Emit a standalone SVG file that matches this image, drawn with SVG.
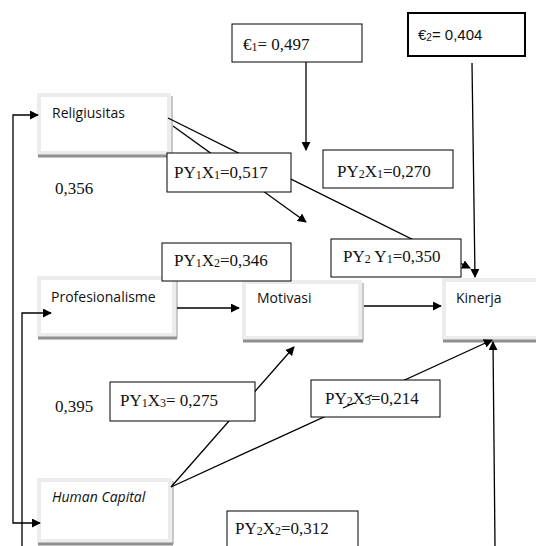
<svg xmlns="http://www.w3.org/2000/svg" width="536" height="546" viewBox="0 0 536 546">
<style>
.node rect.b{fill:#fff;stroke:#ececec;stroke-width:4}
.node path.sh{fill:none;stroke:#8f8f8f;stroke-width:3}
.node path.sr{fill:none;stroke:#c8c8c8;stroke-width:2}
.nt{font-family:"Open Sans","Liberation Sans",sans-serif;font-size:14px;fill:#111}
.lb rect{fill:#fff;stroke:#000;stroke-width:1}
.lt{font-family:"Liberation Serif","Times New Roman",serif;font-size:17px;fill:#111}
.s{font-size:12px}
.c{fill:none;stroke:#000;stroke-width:1.3}
.ca{fill:none;stroke:#000;stroke-width:1.3;marker-end:url(#ah)}
</style>
<defs>
<marker id="ah" viewBox="0 0 10 10" refX="9" refY="5" markerWidth="9" markerHeight="9" markerUnits="userSpaceOnUse" orient="auto-start-reverse">
<path d="M0,0 L10,5 L0,10 Z" fill="#000"/>
</marker>
</defs>
<rect width="536" height="546" fill="#fff"/>

<g id="religiusitas" class="node">
<rect class="b" x="39" y="95" width="130" height="58"/>
<path class="sr" d="M172,96 V156"/>
<path class="sh" d="M38,156 H172"/>
<text class="nt" x="52" y="118">Religiusitas</text>
</g>
<g id="profesionalisme" class="node">
<rect class="b" x="39" y="278" width="135" height="57"/>
<path class="sr" d="M177,279 V338"/>
<path class="sh" d="M38,338 H177"/>
<text class="nt" x="51" y="302">Profesionalisme</text>
</g>
<g id="motivasi" class="node">
<rect class="b" x="244" y="282" width="116" height="56"/>
<path class="sr" d="M363,283 V341"/>
<path class="sh" d="M243,341 H363"/>
<text class="nt" x="257" y="303">Motivasi</text>
</g>
<g id="kinerja" class="node">
<rect class="b" x="444" y="280" width="100" height="58"/>
<path class="sh" d="M443,341 H540"/>
<text class="nt" x="456" y="303">Kinerja</text>
</g>
<g id="human-capital" class="node">
<rect class="b" x="39" y="480" width="131" height="61"/>
<path class="sr" d="M173,481 V544"/>
<path class="sh" d="M38,544 H173"/>
<text class="nt" x="52" y="502" font-style="italic">Human Capital</text>
</g>

<g id="connectors">
<path class="ca" d="M38,115 H13 V523 H40" marker-start="url(#ah)"/>
<path class="ca" d="M22,546 V313 H51"/>
<path class="ca" d="M168,118 L470,268"/>
<path class="ca" d="M173,126 L306,222"/>
<path class="ca" d="M306,62 V150"/>
<path class="ca" d="M472,63 L475,277"/>
<path class="ca" d="M177,308 H239"/>
<path class="ca" d="M364,306 H441"/>
<path class="ca" d="M171,487 L294,347"/>
<path class="ca" d="M171,487 L492,340"/>
<path class="ca" d="M495,546 L493,342"/>
</g>

<g id="e1" class="lb">
<rect x="232" y="24" width="130" height="38"/>
<text class="lt" x="243" y="50">€<tspan class="s" dy="1">1</tspan><tspan dy="-1">= 0,497</tspan></text>
</g>
<g id="e2">
<rect x="408" y="13" width="117" height="43" fill="#fff" stroke="#000" stroke-width="2"/>
<text x="418" y="40" font-family="'Liberation Sans',Arial,sans-serif" font-size="15" fill="#111">€<tspan font-size="10" dy="1">2</tspan><tspan dy="-1">= 0,404</tspan></text>
</g>
<g id="py1x1" class="lb">
<rect x="167" y="153" width="124" height="39"/>
<text class="lt" x="174" y="178">PY<tspan class="s" dy="1">1</tspan><tspan dy="-1">X</tspan><tspan class="s" dy="1">1</tspan><tspan dy="-1">=0,517</tspan></text>
</g>
<g id="py2x1" class="lb">
<rect x="323" y="150" width="130" height="38"/>
<text class="lt" x="337" y="177">PY<tspan class="s" dy="1">2</tspan><tspan dy="-1">X</tspan><tspan class="s" dy="1">1</tspan><tspan dy="-1">=0,270</tspan></text>
</g>
<g id="py1x2" class="lb">
<rect x="162" y="243" width="129" height="38"/>
<text class="lt" x="174" y="266">PY<tspan class="s" dy="1">1</tspan><tspan dy="-1">X</tspan><tspan class="s" dy="1">2</tspan><tspan dy="-1">=0,346</tspan></text>
</g>
<g id="py2y1" class="lb">
<rect x="331" y="239" width="130" height="38"/>
<text class="lt" x="343" y="262">PY<tspan class="s" dy="1">2</tspan><tspan dy="-1"> Y</tspan><tspan class="s" dy="1">1</tspan><tspan dy="-1">=0,350</tspan></text>
</g>
<g id="py1x3" class="lb">
<rect x="110" y="382" width="145" height="39"/>
<text class="lt" x="120" y="406">PY<tspan class="s" dy="1">1</tspan><tspan dy="-1">X</tspan><tspan class="s" dy="1">3</tspan><tspan dy="-1">= 0,275</tspan></text>
</g>
<g id="py2x3" class="lb">
<rect x="311" y="380" width="129" height="37"/>
<text class="lt" x="325" y="404">PY<tspan class="s" dy="1">2</tspan><tspan dy="-1">X</tspan><tspan class="s" dy="1">3</tspan><tspan dy="-1">=0,214</tspan></text>
</g>
<g id="py2x2" class="lb">
<rect x="227" y="511" width="131" height="40"/>
<text class="lt" x="235" y="534">PY<tspan class="s" dy="1">2</tspan><tspan dy="-1">X</tspan><tspan class="s" dy="1">2</tspan><tspan dy="-1">=0,312</tspan></text>
</g>
<g id="overlay-fragments">
<path class="c" d="M343,408 L354,403 M365,398 L372,395"/>
</g>
<g id="free-labels">
<text class="lt" x="55" y="194">0,356</text>
<text class="lt" x="55" y="412">0,395</text>
</g>
</svg>
